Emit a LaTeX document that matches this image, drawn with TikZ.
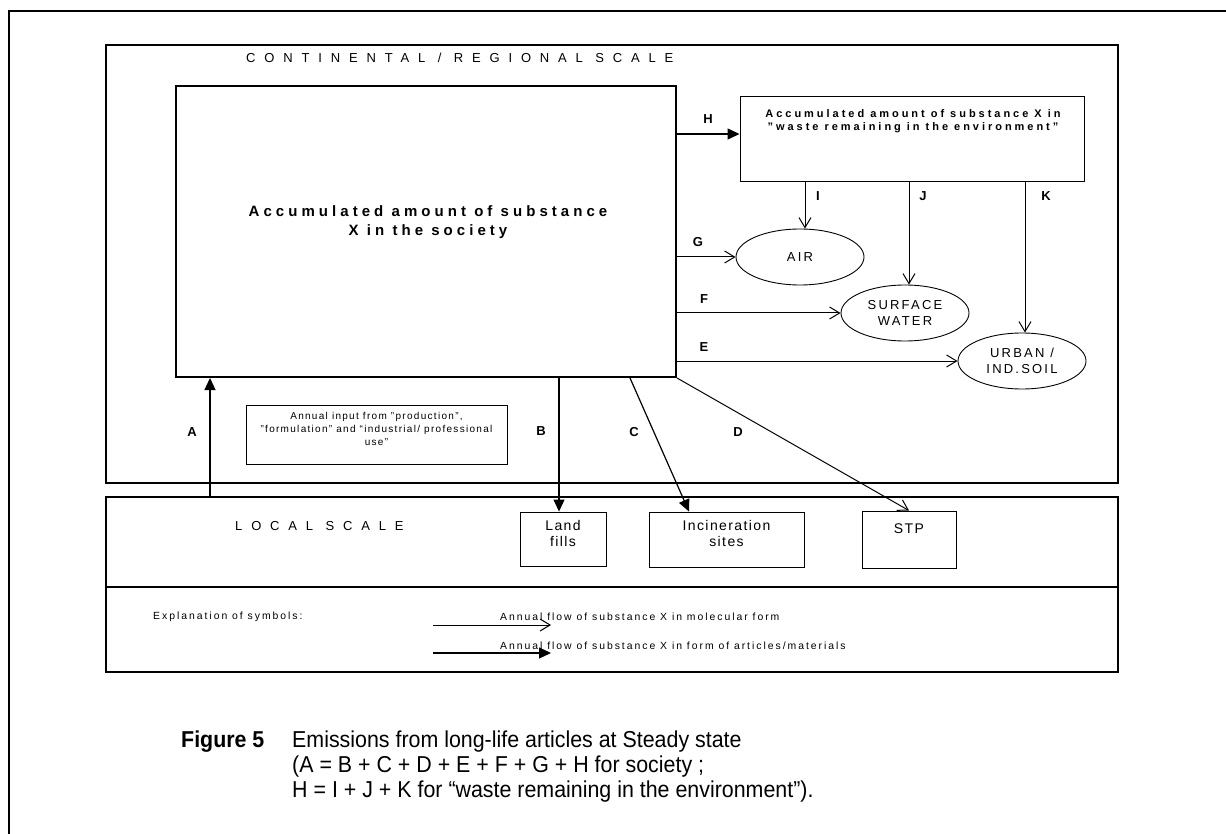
\documentclass[tikz,border=0pt]{standalone}
\usepackage{fontspec}
\setmainfont{Liberation Sans}
\newfontfamily\capfont[FakeStretch=0.93]{Liberation Sans}
\usetikzlibrary{arrows.meta,shapes.geometric}

\tikzset{
  boxnode/.style={draw, line width=0.9pt, rectangle, inner sep=0pt},
  oval/.style={draw, line width=0.9pt, ellipse, inner sep=0pt,
    minimum width=128pt, minimum height=56pt, align=center,
    font=\fontsize{13}{15.5}\selectfont\addfontfeature{LetterSpace=17}},
  mol/.style={draw, line width=1pt, -{Straight Barb[length=10pt,width=12pt,line width=1pt]}},
  art/.style={draw, line width=1.2pt, -{Triangle[length=12pt,width=11pt]}},
  flowlbl/.style={font=\fontsize{13}{15}\selectfont\bfseries, inner sep=0pt},
  scalelbl/.style={anchor=west, inner sep=0pt,
    font=\fontsize{13}{15}\selectfont\addfontfeature{LetterSpace=68}},
  smalltxt/.style={inner sep=0pt, align=center,
    font=\fontsize{10}{13}\selectfont\addfontfeature{LetterSpace=13}},
  sitetxt/.style={inner sep=0pt, align=center,
    font=\fontsize{14}{16.5}\selectfont\addfontfeature{LetterSpace=10}},
  legtxt/.style={anchor=west, inner sep=0pt,
    font=\fontsize{10.4}{12}\selectfont\addfontfeature{LetterSpace=19}},
  captxt/.style={anchor=base west, inner sep=0pt,
    font=\capfont\fontsize{23}{25}\selectfont},
}

\begin{document}
\begin{tikzpicture}[x=1pt,y=-1pt]
\useasboundingbox (0,0) rectangle (1226,834);

% page frame (only its left and top edges fall on the page)
\draw[line width=2pt] (9,834) -- (9,11) -- (1226,11);

% scale frames
\node[boxnode, line width=1.2pt, minimum width=1012pt, minimum height=438pt] (cont) at (612,264) {};
\node[scalelbl] (contlbl) at (246,58) {CONTINENTAL / REGIONAL SCALE};
\node[boxnode, line width=1.2pt, minimum width=1012pt, minimum height=90pt] (local) at (612,542) {};
\node[scalelbl] (locallbl) at (235,526) {LOCAL SCALE};
\node[boxnode, line width=1.2pt, minimum width=1012pt, minimum height=85pt] (legend) at (612,629.5) {};

% society stock
\node[boxnode, line width=2pt, minimum width=500pt, minimum height=291pt] (soc) at (426,231.5) {};
\node[inner sep=0pt, align=center,
      font=\fontsize{15}{19}\selectfont\bfseries\addfontfeature{LetterSpace=27}]
  (soctxt) at (428,222) {Accumulated amount of substance\\X in the society};

% waste remaining in the environment
\node[boxnode, minimum width=344pt, minimum height=85pt] (waste) at (912,138.5) {};
\node[inner sep=0pt, align=center,
      font=\fontsize{11}{13}\selectfont\bfseries\addfontfeature{LetterSpace=27}]
  (wastetxt) at (913,121.5) {Accumulated amount of substance X in\\"waste remaining in the environment"};

% environmental compartments
\node[oval] (air) at (800,257) {AIR};
\node[oval] (sw) at (905,313) {SURFACE\\WATER};
\node[oval] (soil) at (1022,361) {URBAN /\\IND.SOIL};

% annual input note
\node[boxnode, minimum width=261pt, minimum height=59pt] (input) at (376.5,434.5) {};
\node[smalltxt] (inputtxt) at (376.5,429) {Annual input from "production",\\"formulation" and “industrial/ professional\\use"};

% local sites
\node[boxnode, minimum width=86pt, minimum height=54pt] (lf) at (563,539) {};
\node[sitetxt, anchor=north] (lftxt) at (563,520) {Land\\fills};
\node[boxnode, minimum width=155pt, minimum height=55pt] (inc) at (726.5,539.5) {};
\node[sitetxt, anchor=north] (inctxt) at (726.5,520) {Incineration\\sites};
\node[boxnode, minimum width=94pt, minimum height=57pt] (stp) at (909,539.5) {};
\node[sitetxt, anchor=north] (stptxt) at (909,524) {STP};

% flows
\coordinate (xa) at (210,0);
\coordinate (xb) at (559,0);
\coordinate (xc) at (630,0);
\coordinate (xcend) at (689,0);
\coordinate (xi) at (805,0);
\coordinate (xj) at (909,0);
\coordinate (xk) at (1025,0);

\draw[art] (local.north -| xa) -- (soc.south -| xa);
\draw[art] (soc.south -| xb) -- (lf.north -| xb);
\draw[art] (soc.south -| xc) -- (inc.north -| xcend);
\draw[mol] (soc.south east) -- (stp.north);
\draw[mol] (soc.east |- soil.west) -- (soil.west);
\draw[mol] (soc.east |- sw.west) -- (sw.west);
\draw[mol] (soc.east |- air.west) -- (air.west);
\draw[art] (soc.east |- 0,134) -- (waste.west |- 0,134);
\draw[mol] (waste.south -| xi) -- (air.north -| xi);
\draw[mol] (waste.south -| xj) -- (sw.north -| xj);
\draw[mol] (waste.south -| xk) -- (soil.north -| xk);

\node[flowlbl] (la) at (192,432) {A};
\node[flowlbl] (lb) at (541,431) {B};
\node[flowlbl] (lc) at (634,432) {C};
\node[flowlbl] (ld) at (738,432) {D};
\node[flowlbl] (le) at (704,347) {E};
\node[flowlbl] (lfl) at (704,299) {F};
\node[flowlbl] (lg) at (698,242) {G};
\node[flowlbl] (lh) at (708,119) {H};
\node[flowlbl] (li) at (818,196) {I};
\node[flowlbl] (lj) at (923,196) {J};
\node[flowlbl] (lk) at (1046,196) {K};

% legend
\node[legtxt] (legtitle) at (153,617) {Explanation of symbols:};
\coordinate (m0) at (433,625);
\coordinate (m1) at (551,625);
\coordinate (a0) at (433,653);
\coordinate (a1) at (551,653);
\draw[mol] (m0) -- (m1);
\draw[art] (a0) -- (a1);
\node[legtxt] (legmol) at (500,617) {Annual flow of substance X in molecular form};
\node[legtxt] (legart) at (500,646) {Annual flow of substance X in form of articles/materials};

% caption
\node[captxt, font=\capfont\fontsize{23}{25}\selectfont\bfseries] (fig) at (181,747) {Figure 5};
\node[captxt] (cap1) at (292,747) {Emissions from long-life articles at Steady state};
\node[captxt] (cap2) at (292,772) {(A = B + C + D + E + F + G + H for society ;};
\node[captxt] (cap3) at (292,797) {H = I + J + K for “waste remaining in the environment”).};
\end{tikzpicture}
\end{document}
